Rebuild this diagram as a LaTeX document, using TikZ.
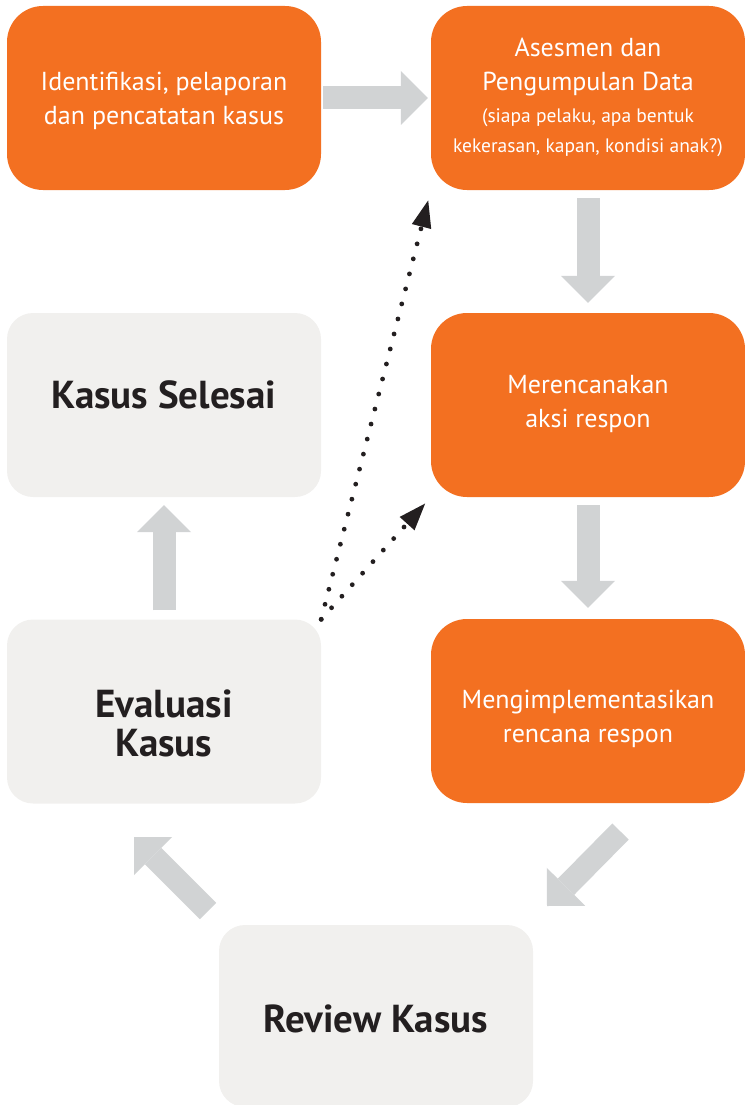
\documentclass[tikz,border=0pt]{standalone}
\usepackage{fontspec}
\setmainfont{PT Sans}
\usetikzlibrary{arrows.meta}

\definecolor{caseOrange}{HTML}{F37021}
\definecolor{caseGray}{HTML}{F1F0EE}
\definecolor{arrowGray}{HTML}{D1D3D4}
\definecolor{inkDark}{HTML}{231F20}

\tikzset{
  stepbox/.style={fill=caseOrange, rounded corners=36pt, minimum width=314pt, minimum height=184pt, inner sep=0pt},
  donebox/.style={fill=caseGray, rounded corners=26pt, minimum width=314pt, minimum height=184pt, inner sep=0pt},
  steptext/.style={text=white, align=center, inner sep=0pt, font=\fontsize{26}{34}\selectfont},
  donetext/.style={text=inkDark, align=center, inner sep=0pt, font=\bfseries\fontsize{39}{39}\selectfont},
  flowarrow/.style={draw=arrowGray, line width=23pt, -{Triangle[width=54pt,length=27pt,line width=0pt]}},
  backarrow/.style={draw=inkDark, line width=4.8pt, line cap=round, dash pattern=on 0pt off 15.5pt, -{Triangle[width=20pt,length=27pt,line width=0pt]}}
}
\newcommand{\smalltext}{\fontsize{19.5}{30}\selectfont}

\begin{document}
\begin{tikzpicture}[x=1pt, y=-1pt]
  \useasboundingbox (0,0) rectangle (744,1105);

  % orange steps
  \node[stepbox] (ident) at (164,98) {};
  \node[stepbox] (asses) at (588,98) {};
  \node[stepbox] (plan) at (588,405) {};
  \node[stepbox] (impl) at (588,711) {};

  % gray steps
  \node[donebox] (done) at (164,405) {};
  \node[donebox] (eval) at (164,711.5) {};
  \node[donebox, minimum height=182pt] (review) at (376,1016) {};

  % texts
  \node[steptext] (identT) at (164,101) {Identifikasi, pelaporan\\dan pencatatan kasus};
  \node[steptext] (assesT) at (588,97) {Asesmen dan\\Pengumpulan Data\\[-2pt]\smalltext (siapa pelaku, apa bentuk\\[-4pt]\smalltext kekerasan, kapan, kondisi anak?)};
  \node[steptext] (planT) at (588,404) {Merencanakan\\aksi respon};
  \node[steptext] (implT) at (588,719) {Mengimplementasikan\\rencana respon};
  \node[donetext] (doneT) at (164,394.5) {Kasus Selesai};
  \node[donetext] (evalT) at (164,723) {Evaluasi\\Kasus};
  \node[donetext] (reviewT) at (376,1018.5) {Review Kasus};

  % flow
  \coordinate (implOut) at (620.5,831.5);
  \coordinate (reviewIn) at (547,906);
  \coordinate (reviewOut) at (208,911);
  \coordinate (evalIn) at (134,837);
  \draw[flowarrow, shorten <=2pt, shorten >=3pt] (ident.east) -- (asses.west);
  \draw[flowarrow, shorten <=8pt, shorten >=10pt] (asses.south) -- (plan.north);
  \draw[flowarrow, shorten <=8pt, shorten >=11pt] (plan.south) -- (impl.north);
  \draw[flowarrow] (implOut) -- (reviewIn);
  \draw[flowarrow] (reviewOut) -- (evalIn);
  \draw[flowarrow, shorten <=9pt, shorten >=8pt] (eval.north) -- (done.south);

  % back to assessment / planning
  \draw[backarrow, shorten >=10.5pt] (eval.north east) -- (asses.south west);
  \draw[backarrow, shorten >=8.5pt] (eval.north east) -- (plan.south west);

\end{tikzpicture}
\end{document}
